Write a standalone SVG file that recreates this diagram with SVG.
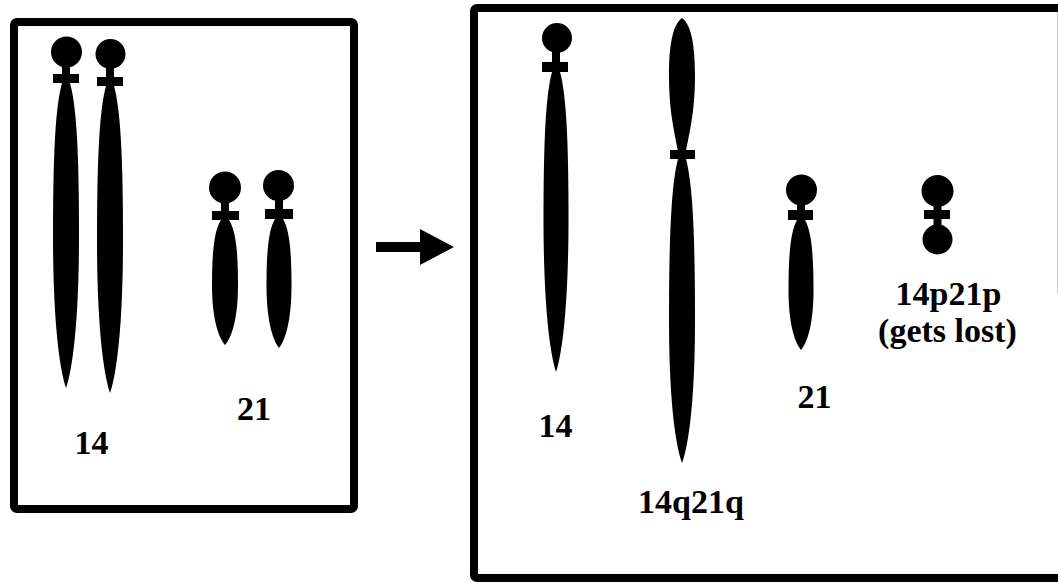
<svg xmlns="http://www.w3.org/2000/svg" width="1058" height="583" viewBox="0 0 1058 583">
  <style>
    .frame { fill: none; stroke: #000; stroke-width: 8; stroke-linejoin: round; }
    .chr { fill: #000; stroke: none; }
    .lbl { font-family: "Liberation Serif", "Times New Roman", serif; font-weight: bold; font-size: 34px; fill: #000; text-anchor: middle; }
  </style>
  <defs>
    <marker id="arrowhead" viewBox="0 0 34 36" refX="0" refY="18" markerWidth="34" markerHeight="36" markerUnits="userSpaceOnUse" orient="auto">
      <path d="M0,0 L34,18 L0,36 Z" fill="#000"/>
    </marker>
  </defs>
  <rect width="1058" height="583" fill="#fff"/>

  <!-- before: two copies each of chromosome 14 and 21 -->
  <g id="panel-before">
    <rect class="frame" x="14" y="22" width="340" height="487" rx="3"/>
  </g>

  <g id="chr14-a" class="chr">
    <circle cx="66.5" cy="52" r="15.5"/>
    <rect x="62" y="60" width="8" height="26"/>
    <rect x="53" y="74" width="26" height="9"/>
    <path d="M62,83 L70,83 C76.4,105.8 79,151.4 79,235 C79,311.5 73.8,365 66,388 C58.2,365 53,311.5 53,235 C53,151.4 55.6,105.8 62,83 Z"/>
  </g>
  <g id="chr14-b" class="chr">
    <circle cx="110.5" cy="54" r="15"/>
    <rect x="106" y="62" width="8" height="26"/>
    <rect x="97" y="77" width="26" height="9"/>
    <path d="M106,86 L114,86 C120.4,109.1 123,155.3 123,240 C123,316.5 117.8,370 110,393 C102.2,370 97,316.5 97,240 C97,155.3 99.6,109.1 106,86 Z"/>
  </g>
  <g id="chr21-a" class="chr">
    <circle cx="225" cy="187.5" r="16"/>
    <rect x="221" y="196" width="8" height="26"/>
    <rect x="212" y="211" width="27" height="9"/>
    <path d="M221,220 L229,220 C235.4,229.8 238,249.3 238,285 C238,315 232.8,336 225,345 C217.2,336 212,315 212,285 C212,249.3 214.6,229.8 221,220 Z"/>
  </g>
  <g id="chr21-b" class="chr">
    <circle cx="278.5" cy="185.5" r="15.5"/>
    <rect x="275" y="194" width="8" height="26"/>
    <rect x="265" y="209" width="28" height="10"/>
    <path d="M275,219 L283,219 C289,228.9 291.5,248.7 291.5,285 C291.5,316.5 286.5,338.6 279,348 C271.5,338.6 266.5,316.5 266.5,285 C266.5,248.7 269,228.9 275,219 Z"/>
  </g>

  <g id="labels-before">
    <text class="lbl" x="91.5" y="454">14</text>
    <text class="lbl" x="254" y="420">21</text>
  </g>

  <!-- transition arrow -->
  <g id="connectors">
    <line x1="376" y1="247" x2="420" y2="247" stroke="#000" stroke-width="10" marker-end="url(#arrowhead)"/>
  </g>

  <!-- after: Robertsonian translocation products -->
  <g id="panel-after">
    <rect class="frame" x="474" y="8" width="700" height="570" rx="3"/>
    <line x1="1057.5" y1="12" x2="1057.5" y2="293" stroke="#c8c8c8" stroke-width="1"/>
  </g>

  <g id="chr14-c" class="chr">
    <circle cx="557" cy="38" r="15"/>
    <rect x="552" y="46" width="8" height="28"/>
    <rect x="542" y="62" width="26" height="10"/>
    <path d="M552,72 L560,72 C566,93.9 568.5,137.7 568.5,218 C568.5,295 563.5,348.9 556,372 C548.5,348.9 543.5,295 543.5,218 C543.5,137.7 546,93.9 552,72 Z"/>
  </g>
  <g id="chr14q21q" class="chr">
    <path d="M682,18 C691,24 695,45 695,75 C695,110 690,130 686,151 L678,151 C674,130 669,110 669,75 C669,45 673,24 682,18 Z"/>
    <rect x="670" y="150" width="25" height="9"/>
    <path d="M678,159 L686,159 C692.4,183.2 695,231.5 695,320 C695,391.5 689.8,441.6 682,463 C674.2,441.6 669,391.5 669,320 C669,231.5 671.6,183.2 678,159 Z"/>
  </g>
  <g id="chr21-c" class="chr">
    <circle cx="801.5" cy="190" r="15.5"/>
    <rect x="797" y="198" width="8" height="24"/>
    <rect x="788" y="210" width="25" height="10"/>
    <path d="M797,220 L805,220 C811,230.5 813.5,251.5 813.5,290 C813.5,320 808.5,341 801,350 C793.5,341 788.5,320 788.5,290 C788.5,251.5 791,230.5 797,220 Z"/>
  </g>
  <g id="chr14p21p" class="chr">
    <circle cx="937.5" cy="191" r="16"/>
    <rect x="933.5" y="200" width="8" height="32"/>
    <rect x="924" y="210" width="26" height="9"/>
    <circle cx="937.5" cy="239.5" r="15"/>
  </g>

  <g id="labels-after">
    <text class="lbl" x="555.5" y="437">14</text>
    <text class="lbl" x="691" y="513">14q21q</text>
    <text class="lbl" x="814.5" y="408">21</text>
    <text class="lbl" x="948.5" y="305">14p21p</text>
    <text class="lbl" x="947.5" y="342">(gets lost)</text>
  </g>
</svg>
